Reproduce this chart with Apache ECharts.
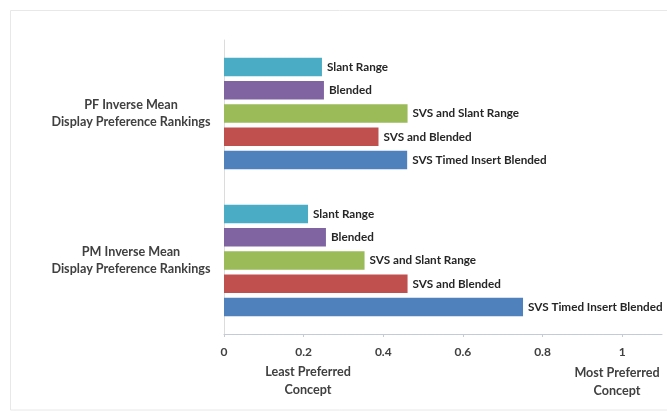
<!DOCTYPE html>
<html>
<head>
<meta charset="utf-8">
<script src="https://cdn.jsdelivr.net/npm/echarts@6/dist/echarts.min.js"></script>
<style>
html,body{margin:0;padding:0;background:#fff;}
#c{width:667px;height:413px;}
</style>
</head>
<body>
<div id="c"></div>
<script>
const categories = ['PF Inverse Mean\nDisplay Preference Rankings', 'PM Inverse Mean\nDisplay Preference Rankings'];
const seriesNames = ['Slant Range', 'Blended', 'SVS and Slant Range', 'SVS and Blended', 'SVS Timed Insert Blended'];
const slantRange = [0.246, 0.211];
const blended = [0.251, 0.256];
const svsSlantRange = [0.461, 0.353];
const svsBlended = [0.388, 0.461];
const svsTimedInsertBlended = [0.460, 0.751];
const xTicks = [0, 0.2, 0.4, 0.6, 0.8, 1];
const colors = ['#4bacc6', '#8064a2', '#9bbb59', '#c0504d', '#4f81bd'];

const seriesValues = [slantRange, blended, svsSlantRange, svsBlended, svsTimedInsertBlended];
const FONT = 'Lato';

const chart = echarts.init(document.getElementById('c'), null, {renderer: 'canvas'});
chart.setOption({
  backgroundColor: '#fff',
  animation: false,
  grid: {left: 224, right: 5, top: 40, bottom: 79, containLabel: false},
  xAxis: {
    type: 'value', min: 0, max: 1.1, interval: 0.2,
    axisLine: {show: true, lineStyle: {color: '#c3cad8', width: 1}},
    axisTick: {show: true, length: 3, customValues: xTicks, lineStyle: {color: '#c3cad8'}},
    splitLine: {show: false},
    axisLabel: {customValues: xTicks, margin: 12, color: '#404040', fontFamily: FONT, fontWeight: 'bold', fontSize: 12,
      formatter: v => String(v)}
  },
  yAxis: {
    type: 'category', data: categories, inverse: true,
    axisLine: {show: true, lineStyle: {color: '#dcdcdc'}},
    axisTick: {show: false},
    axisLabel: {margin: 93, color: '#404040', fontFamily: FONT, fontWeight: 'bold', fontSize: 12.6, lineHeight: 17.5, align: 'center'}
  },
  graphic: [
    {type: 'rect', shape: {x: 10.5, y: 10.5, width: 700, height: 399.5}, style: {fill: 'none', stroke: '#e8e8e8', lineWidth: 1}, silent: true, z: -1},
    {type: 'text', x: 308, y: 381, style: {text: 'Least Preferred\nConcept', textAlign: 'center', textVerticalAlign: 'middle', fill: '#404040', font: 'bold 12.6px Lato', lineHeight: 17.5}},
    {type: 'text', x: 617, y: 381.5, style: {text: 'Most Preferred\nConcept', textAlign: 'center', textVerticalAlign: 'middle', fill: '#404040', font: 'bold 12.6px Lato', lineHeight: 18}}
  ],
  series: seriesNames.map((name, i) => ({
    name: name, type: 'bar', data: seriesValues[i],
    barWidth: 18.5, barGap: '26%',
    itemStyle: {color: colors[i]},
    label: {show: true, position: 'right', distance: 5, formatter: name, color: '#262626', fontFamily: FONT, fontWeight: 'bold', fontSize: 11.7}
  }))
});
</script>
</body>
</html>
